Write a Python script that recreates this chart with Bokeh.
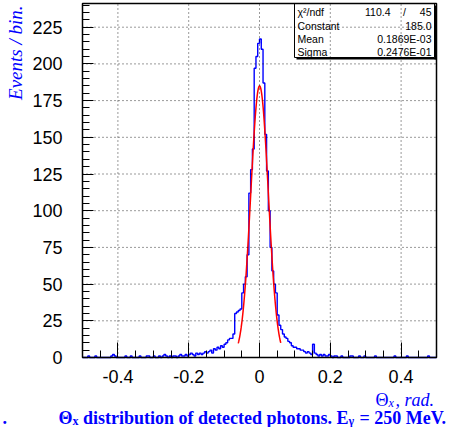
import numpy as np
from bokeh.plotting import figure
from bokeh.models import Range1d, FixedTicker, Label
from bokeh.embed import file_html
from bokeh.resources import INLINE

# ---------------- data ----------------
bin_lo, bin_hi, n_bins = -0.5, 0.5, 200
counts = [
    0, 0, 0, 1, 0, 0, 0, 1, 0, 0,
    0, 0, 0, 0, 0, 0, 1, 2, 1, 0,
    0, 0, 0, 0, 1, 0, 0, 1, 0, 0,
    0, 0, 1, 0, 0, 0, 1, 1, 0, 0,
    1, 0, 0, 1, 0, 1, 2, 1, 0, 1,
    0, 1, 1, 0, 1, 2, 1, 1, 2, 1,
    2, 3, 2, 1, 3, 2, 3, 2, 3, 4,
    3, 4, 5, 3, 6, 5, 7, 6, 8, 7,
    9, 10, 12, 13, 13, 16, 30, 31, 32, 33,
    44, 50, 55, 70, 112, 128, 142, 197, 205, 214,
    217, 210, 187, 152, 127, 100, 75, 59, 50, 44,
    29, 22, 19, 16, 14, 13, 11, 10, 8, 7,
    7, 6, 6, 5, 5, 4, 3, 4, 3, 2,
    9, 3, 2, 1, 2, 1, 2, 1, 1, 2,
    1, 0, 1, 1, 0, 0, 1, 0, 0, 0,
    0, 1, 1, 0, 0, 0, 1, 0, 0, 1,
    0, 0, 0, 0, 0, 1, 0, 0, 0, 0,
    0, 0, 0, 0, 0, 0, 1, 0, 0, 0,
    0, 0, 0, 1, 0, 0, 0, 0, 0, 0,
    0, 0, 0, 0, 0, 1, 0, 0, 0, 0,
]
fit_constant = 185.0
fit_mean = 0.1869e-03
fit_sigma = 0.2476e-01
fit_lo, fit_hi = -0.06, 0.06
chi2_text, ndf_text = "110.4", "45"
stat_names = ["Constant", "Mean", "Sigma"]
stat_values = ["185.0", "0.1869E-03", "0.2476E-01"]
x_ticks = [-0.4, -0.2, 0.0, 0.2, 0.4]
x_tick_labels = ["-0.4", "-0.2", "0", "0.2", "0.4"]
y_ticks = [0, 25, 50, 75, 100, 125, 150, 175, 200, 225]

# ---------------- layout (canvas pixels) ----------------
W, H = 447, 427
FL, FR, FT, FB = 82, 436, 3, 357          # drawing box of the histogram
SX = (FR - FL) / (bin_hi - bin_lo)        # px per x unit
SY = 1.468                                # px per y unit
Y_TOP = (FB - FT) / SY


def dx(px):
    return bin_lo + (px - FL) / SX


def dy(py):
    return (FB - py) / SY


BLUE = "#0000ff"
RED = "#ff0000"

p = figure(width=W, height=H, output_backend="svg", toolbar_location=None,
           x_range=Range1d(dx(0), dx(W)), y_range=Range1d(dy(H), dy(0)),
           min_border=0, min_border_left=0, min_border_right=0,
           min_border_top=0, min_border_bottom=0)
p.background_fill_color = "white"
p.border_fill_color = "white"
p.outline_line_color = None
p.xgrid.visible = False
p.ygrid.visible = False

# axes pinned to the histogram box
x_minor = [round(v, 3) for v in np.arange(-0.5, 0.5001, 0.05) if min(abs(v - t) for t in x_ticks) > 1e-6]
y_minor = [v for v in range(0, 245, 5) if v % 25 != 0]
p.xaxis.ticker = FixedTicker(ticks=x_ticks, minor_ticks=x_minor)
p.yaxis.ticker = FixedTicker(ticks=y_ticks, minor_ticks=y_minor)
p.xaxis.major_label_overrides = {t: s for t, s in zip(x_ticks, x_tick_labels)}
p.xaxis.fixed_location = 0.0
p.yaxis.fixed_location = bin_lo
p.xaxis.bounds = (bin_lo, bin_hi)
p.yaxis.bounds = (0.0, Y_TOP)
for ax in (p.xaxis[0], p.yaxis[0]):
    ax.axis_line_color = "black"
    ax.major_tick_line_color = "black"
    ax.minor_tick_line_color = "black"
    ax.major_tick_out = 0
    ax.minor_tick_out = 0
    ax.major_label_text_font = "Liberation Sans"
    ax.major_label_text_font_size = "18px"
    ax.major_label_text_color = "black"
p.xaxis.major_tick_in = 15
p.xaxis.minor_tick_in = 7
p.yaxis.major_tick_in = 11
p.yaxis.minor_tick_in = 7
p.xaxis.major_label_standoff = 12
p.yaxis.major_label_standoff = 20

# histogram as step outline
edges = np.linspace(bin_lo, bin_hi, n_bins + 1)
hy = list(counts) + [counts[-1]]
p.step(x=edges, y=hy, mode="after", line_color=BLUE, line_width=1.4)

# gaussian fit from the listed fit parameters
fx_ = np.linspace(fit_lo, fit_hi, 161)
fy_ = fit_constant * np.exp(-0.5 * ((fx_ - fit_mean) / fit_sigma) ** 2)
p.line(fx_, fy_, line_color=RED, line_width=1.5)

# frame of the histogram area, drawn above the histogram
p.quad(left=bin_lo, right=bin_hi, bottom=0.0, top=Y_TOP,
       fill_color=None, line_color="black", line_width=1.5, level="overlay")

# stats box
bl, br, bt, bb = 294, 434, FT, 57
p.quad(left=dx(bl), right=dx(br), top=dy(bt), bottom=dy(bb),
       fill_color=None, line_color="black", line_width=1)
p.segment(x0=[dx(br + 1), dx(bl + 2)], y0=[dy(bt + 2), dy(bb + 1)],
          x1=[dx(br + 1), dx(br + 2)], y1=[dy(bb + 2), dy(bb + 1)],
          line_color="black", line_width=2)

# dotted grid at the major ticks, drawn over everything
p.segment(x0=x_ticks, x1=x_ticks, y0=[0.0] * len(x_ticks), y1=[Y_TOP] * len(x_ticks),
          line_color="black", line_dash="1 3", line_width=1, line_alpha=0.8, level="overlay")
p.segment(x0=[bin_lo] * len(y_ticks), x1=[bin_hi] * len(y_ticks), y0=y_ticks, y1=y_ticks,
          line_color="black", line_dash="1 3", line_width=1, line_alpha=0.8, level="overlay")

rows = [11, 25, 38.5, 51.5]
SF = "10.5px"


def lab(text, px, py, size, font="Liberation Sans", style="normal", color="black",
        align="left", baseline="middle", angle=0.0):
    p.add_layout(Label(x=dx(px), y=dy(py), text=text, text_font=font,
                       text_font_size=size, text_font_style=style,
                       text_color=color, text_align=align,
                       text_baseline=baseline, angle=angle))


lab("\u03c7\u00b2/ndf", 297, rows[0], SF)
lab(chi2_text, 390, rows[0], SF, align="right")
lab("/", 404, rows[0], SF, align="center")
lab(ndf_text, 431, rows[0], SF, align="right")
for name, val, ry in zip(stat_names, stat_values, rows[1:]):
    lab(name, 297, ry, SF)
    lab(val, 431, ry, SF, align="right")

# y axis title (rotated)
lab("Events / bin.", 15, 5, "19px", font="Liberation Serif", style="italic",
    color=BLUE, align="right", baseline="middle", angle=np.pi / 2)

# x axis title: Θx, rad.
xb = 399
lab("\u0398", 375, xb, "18px", font="Liberation Serif", color=BLUE, baseline="alphabetic")
lab("x", 388, xb + 3.5, "12px", font="Liberation Serif", style="italic", color=BLUE,
    baseline="alphabetic")
lab(", rad.", 395, xb, "18px", font="Liberation Serif", style="italic", color=BLUE,
    baseline="alphabetic")

# caption
CS = "18px"
cb = 417
c0 = 58
lab(".", 2, cb, CS, font="Liberation Serif", style="bold", color=BLUE, baseline="alphabetic")
lab("\u0398", c0, cb, CS, font="Liberation Serif", style="bold", color=BLUE, baseline="alphabetic")
lab("x", c0 + 14, cb + 3.5, "12px", font="Liberation Serif", style="bold", color=BLUE,
    baseline="alphabetic")
lab("distribution of detected photons. E", c0 + 24.5, cb, CS, font="Liberation Serif",
    style="bold", color=BLUE, baseline="alphabetic")
lab("\u03b3", c0 + 290, cb + 3, "12px", font="Liberation Serif", style="bold", color=BLUE,
    baseline="alphabetic")
lab("= 250 MeV.", c0 + 301, cb, CS, font="Liberation Serif", style="bold", color=BLUE,
    baseline="alphabetic")

open("out.html", "w").write(file_html(p, INLINE))
